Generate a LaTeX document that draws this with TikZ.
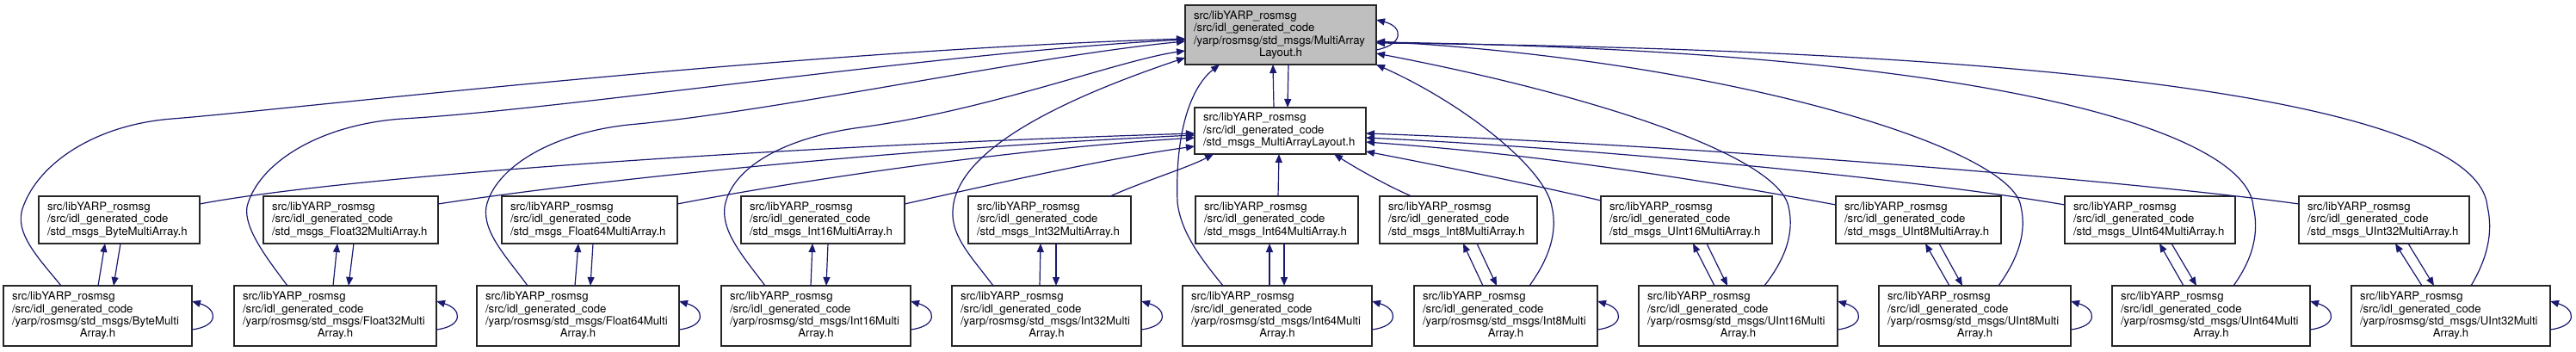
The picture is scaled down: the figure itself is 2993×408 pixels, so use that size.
\documentclass[tikz,border=0pt]{standalone}
\usepackage{fontspec}
\setmainfont{TeX Gyre Heros}
\usetikzlibrary{arrows.meta,calc}
\setlength{\parindent}{0pt}
\setlength{\parskip}{0pt}
\definecolor{edgeblue}{HTML}{191970}
\definecolor{rootgray}{HTML}{BFBFBF}
\newcommand\gnode[7][]{%
  \pgfmathsetmacro\gnw{(#5-#3)*0.75}%
  \pgfmathsetmacro\gnh{(#6-#4)*0.75}%
  \pgfmathsetmacro\gntw{(#5-#3-20)*0.75}%
  \node[gbox,#1,minimum width=\gnw pt,minimum height=\gnh pt,text width=\gntw pt] (#2) at ({(#3+#5)/2},{(#4+#6)/2}) {#7};}
\newcommand\rowtwo[1]{src/libYARP\_rosmsg\\/src/idl\_generated\_code\\/std\_msgs\_#1MultiArray.h}
\newcommand\rowthree[1]{src/libYARP\_rosmsg\\/src/idl\_generated\_code\\/yarp/rosmsg/std\_msgs/#1Multi\par{\centering Array.h\par}}
\begin{document}
\begin{tikzpicture}[x=0.75pt,y=-0.75pt,
  gbox/.style={draw=black!85,line width=1.1pt,rectangle,inner xsep=0pt,inner ysep=0pt,outer sep=0pt,
    align=left,fill=white,font=\fontsize{9.9}{10.8}\selectfont},
  dep/.style={draw=edgeblue,line width=0.9pt,-{Triangle[length=7.5pt,width=6pt]}}]
\fill[white] (0,0) rectangle (2993,408);
\useasboundingbox (0,0) rectangle (2993,408);

% nodes
\gnode[fill=rootgray]{root}{1377}{6}{1599}{75}{src/libYARP\_rosmsg\\/src/idl\_generated\_code\\/yarp/rosmsg/std\_msgs/MultiArray\par{\centering Layout.h\par}}
\gnode{mid}{1388}{125}{1587}{179}{src/libYARP\_rosmsg\\/src/idl\_generated\_code\\/std\_msgs\_MultiArrayLayout.h}

\gnode{b2}{45}{228}{232}{283}{\rowtwo{Byte}}
\gnode{f32b}{306}{228}{509}{283}{\rowtwo{Float32}}
\gnode{f64b}{583}{228}{787}{283}{\rowtwo{Float64}}
\gnode{i16b}{861}{228}{1051}{283}{\rowtwo{Int16}}
\gnode{i32b}{1125}{228}{1314}{283}{\rowtwo{Int32}}
\gnode{i64b}{1389}{228}{1578}{283}{\rowtwo{Int64}}
\gnode{i8b}{1603}{228}{1786}{283}{\rowtwo{Int8}}
\gnode{u16b}{1860}{228}{2059}{283}{\rowtwo{UInt16}}
\gnode{u8b}{2133}{228}{2325}{283}{\rowtwo{UInt8}}
\gnode{u64b}{2399}{228}{2597}{283}{\rowtwo{UInt64}}
\gnode{u32b}{2671}{228}{2869}{283}{\rowtwo{UInt32}}

\gnode{b3}{4}{332}{223}{402}{\rowthree{Byte}}
\gnode{f323}{272}{332}{507}{402}{\rowthree{Float32}}
\gnode{f643}{554}{332}{789}{402}{\rowthree{Float64}}
\gnode{i163}{838}{332}{1058}{402}{\rowthree{Int16}}
\gnode{i323}{1106}{332}{1326}{402}{\rowthree{Int32}}
\gnode{i643}{1374}{332}{1594}{402}{\rowthree{Int64}}
\gnode{i83}{1643}{332}{1856}{402}{\rowthree{Int8}}
\gnode{u163}{1904}{332}{2135}{402}{\rowthree{UInt16}}
\gnode{u83}{2183}{332}{2406}{402}{\rowthree{UInt8}}
\gnode{u643}{2454}{332}{2684}{402}{\rowthree{UInt64}}
\gnode{u323}{2732}{332}{2963}{402}{\rowthree{UInt32}}

% root <-> mid
\draw[dep] ($(mid.north west)+(92,0)$) -- ($(root.south west)+(102,0)$);
\draw[dep] ($(root.south west)+(120,0)$) -- ($(mid.north west)+(108,0)$);
% root self loop
\draw[dep] ($(root.north east)+(0,52)$) .. controls +(32,-6) and +(32,8) .. ($(root.north east)+(0,17)$);

% row3 self loops
\foreach \n in {b3,f323,f643,i163,i323,i643,i83,u163,u83,u643,u323}{
  \draw[dep] ($(\n.north east)+(0,51)$) .. controls +(32,-4) and +(30,9) .. ($(\n.north east)+(0,18)$);
}

% row3 -> row2 (up)
\draw[dep] ($(b3.north west)+(110,0)$) -- ($(b2.south west)+(77,0)$);
\draw[dep] ($(f323.north west)+(115,0)$) -- ($(f32b.south west)+(86,0)$);
\draw[dep] ($(f643.north west)+(114,0)$) -- ($(f64b.south west)+(89,0)$);
\draw[dep] ($(i163.north west)+(104,0)$) -- ($(i16b.south west)+(83,0)$);
\draw[dep] ($(i323.north west)+(102,0)$) -- ($(i32b.south west)+(84,0)$);
\draw[dep] ($(i643.north west)+(101,0)$) -- ($(i64b.south west)+(86,0)$);
\draw[dep] ($(i83.north west)+(80,0)$) -- ($(i8b.south west)+(97,0)$);
\draw[dep] ($(u163.north west)+(88,0)$) -- ($(u16b.south west)+(107,0)$);
\draw[dep] ($(u83.north west)+(82,0)$) -- ($(u8b.south west)+(104,0)$);
\draw[dep] ($(u643.north west)+(83,0)$) -- ($(u64b.south west)+(110,0)$);
\draw[dep] ($(u323.north west)+(82,0)$) -- ($(u32b.south west)+(112,0)$);

% row2 -> row3 (down)
\draw[dep] ($(b2.south west)+(95,0)$) -- ($(b3.north west)+(128,0)$);
\draw[dep] ($(f32b.south west)+(105,0)$) -- ($(f323.north west)+(133,0)$);
\draw[dep] ($(f64b.south west)+(106,0)$) -- ($(f643.north west)+(132,0)$);
\draw[dep] ($(i16b.south west)+(101,0)$) -- ($(i163.north west)+(122,0)$);
\draw[dep] ($(i32b.south west)+(102,0)$) -- ($(i323.north west)+(121,0)$);
\draw[dep] ($(i64b.south west)+(103,0)$) -- ($(i643.north west)+(118,0)$);
\draw[dep] ($(i8b.south west)+(113,0)$) -- ($(i83.north west)+(96,0)$);
\draw[dep] ($(u16b.south west)+(123,0)$) -- ($(u163.north west)+(103,0)$);
\draw[dep] ($(u8b.south west)+(120,0)$) -- ($(u83.north west)+(97,0)$);
\draw[dep] ($(u64b.south west)+(124,0)$) -- ($(u643.north west)+(98,0)$);
\draw[dep] ($(u32b.south west)+(127,0)$) -- ($(u323.north west)+(96,0)$);

% row2 -> mid
\draw[dep] ($(b2.north east)+(0,9)$) .. controls (400,205) and (900,170) .. ($(mid.north west)+(0,30)$);
\draw[dep] ($(f32b.north east)+(0,9)$) .. controls (650,215) and (1000,175) .. ($(mid.north west)+(0,32)$);
\draw[dep] ($(f64b.north east)+(0,9)$) .. controls (900,215) and (1150,175) .. ($(mid.north west)+(0,35)$);
\draw[dep] ($(i16b.north east)+(0,9)$) .. controls (1150,215) and (1280,185) .. ($(mid.north west)+(0,45)$);
\draw[dep] ($(i32b.north west)+(165,0)$) .. controls (1330,210) and (1380,195) .. ($(mid.south west)+(22,0)$);
\draw[dep] ($(i64b.north west)+(96,0)$) -- ($(mid.south west)+(98,0)$);
\draw[dep] ($(i8b.north west)+(37,0)$) .. controls (1610,215) and (1575,195) .. ($(mid.south west)+(162,0)$);
\draw[dep] ($(u16b.north west)+(0,5)$) .. controls (1760,210) and (1660,190) .. ($(mid.north east)+(0,51)$);
\draw[dep] ($(u8b.north west)+(0,10)$) .. controls (2000,213) and (1800,180) .. ($(mid.north east)+(0,40)$);
\draw[dep] ($(u64b.north west)+(0,10)$) .. controls (2250,212) and (1900,175) .. ($(mid.north east)+(0,35)$);
\draw[dep] ($(u32b.north west)+(0,9)$) .. controls (2500,213) and (2000,170) .. ($(mid.north east)+(0,30)$);

% row3 -> root
\draw[dep] ($(b3.north west)+(67,0)$) .. controls (45,300) and (15,270) .. (27,240) .. controls (45,190) and (110,145) .. (200,138) .. controls (330,128) and (900,60) .. ($(root.north west)+(0,39)$);
\draw[dep] ($(f323.north west)+(62,0)$) .. controls (310,300) and (283,265) .. (287,240) .. controls (300,190) and (370,145) .. (467,138) .. controls (650,128) and (1100,60) .. ($(root.north west)+(0,40)$);
\draw[dep] ($(f643.north west)+(59,0)$) .. controls (590,300) and (560,270) .. (565,240) .. controls (575,195) and (640,155) .. (730,145) .. controls (900,130) and (1200,65) .. ($(root.north west)+(0,42)$);
\draw[dep] ($(i163.north west)+(51,0)$) .. controls (865,300) and (838,270) .. (842,240) .. controls (850,195) and (910,160) .. (1000,148) .. controls (1150,128) and (1300,70) .. ($(root.north west)+(0,53)$);
\draw[dep] ($(i323.north west)+(48,0)$) .. controls (1130,300) and (1105,275) .. (1107,245) .. controls (1110,170) and (1250,110) .. ($(root.north west)+(0,61)$);
\draw[dep] ($(i643.north west)+(47,0)$) .. controls (1395,300) and (1372,270) .. (1368,235) .. controls (1365,150) and (1385,100) .. ($(root.south west)+(40,0)$);
\draw[dep] ($(i83.north west)+(134,0)$) .. controls (1800,300) and (1810,270) .. (1803,240) .. controls (1795,195) and (1700,120) .. (root.south east);
\draw[dep] ($(u163.north west)+(146,0)$) .. controls (2075,300) and (2085,270) .. (2078,240) .. controls (2065,180) and (1850,110) .. ($(root.north east)+(0,56)$);
\draw[dep] ($(u83.north west)+(139,0)$) .. controls (2345,300) and (2355,270) .. (2348,240) .. controls (2338,170) and (2000,70) .. ($(root.north east)+(0,42)$);
\draw[dep] ($(u643.north west)+(141,0)$) .. controls (2618,300) and (2625,270) .. (2618,240) .. controls (2612,160) and (2350,60) .. ($(root.north east)+(0,43)$);
\draw[dep] ($(u323.north west)+(139,0)$) .. controls (2890,300) and (2897,270) .. (2890,240) .. controls (2882,150) and (2600,60) .. ($(root.north east)+(0,44)$);
\end{tikzpicture}
\end{document}
